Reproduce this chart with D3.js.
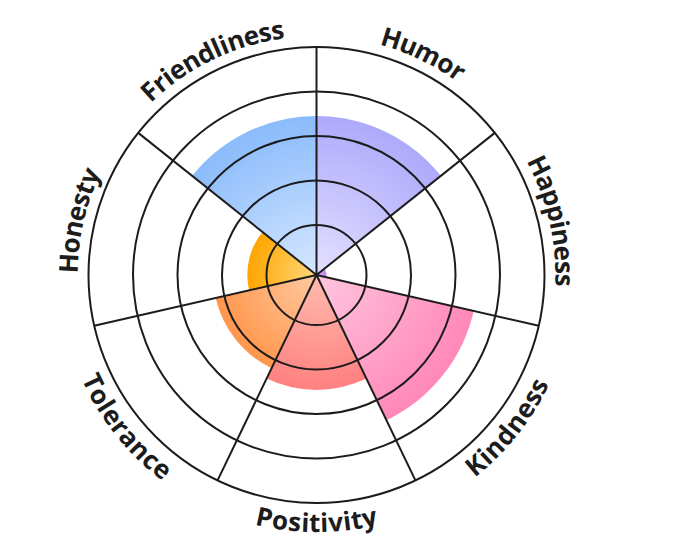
<!DOCTYPE html>
<html>
<head>
<meta charset="utf-8">
<script src="https://cdn.jsdelivr.net/npm/d3@7"></script>
<style>
  html, body { margin: 0; padding: 0; background: #ffffff; }
  svg { display: block; }
</style>
</head>
<body>
<svg id="chart" width="680" height="543"></svg>
<script>
const categories = ["Humor", "Happiness", "Kindness", "Positivity", "Tolerance", "Honesty", "Friendliness"];
const values = [3.45, 0.1, 3.5, 2.46, 2.2, 1.43, 3.45];
const ringTicks = [1, 2, 3, 4, 5];
const innerColors = ["#e4e0ff", "#d9b0ff", "#ffc6de", "#ffbcae", "#ffcaa2", "#ffd97c", "#d6e7ff"];
const outerColors = ["#aeaafb", "#c080f0", "#ff88b8", "#ff8080", "#ff964c", "#ffa500", "#8abbfb"];

const width = 680, height = 543;
const cx = 316.5, cy = 275;
const outerR = 228;

const svg = d3.select("#chart");
const g = svg.append("g").attr("transform", `translate(${cx},${cy})`);

const angle = d3.scaleBand().domain(categories).range([0, 2 * Math.PI]).padding(0);
const r = d3.scaleLinear().domain([0, 5]).range([5.5, outerR]);

const defs = svg.append("defs");
categories.forEach((c, i) => {
  const grad = defs.append("radialGradient")
    .attr("id", "grad" + i)
    .attr("gradientUnits", "userSpaceOnUse")
    .attr("cx", 0).attr("cy", 0).attr("fx", 0).attr("fy", 0)
    .attr("r", r(values[i]));
  grad.append("stop").attr("offset", "0%").attr("stop-color", innerColors[i]);
  grad.append("stop").attr("offset", "100%").attr("stop-color", outerColors[i]);
});

const arc = d3.arc()
  .innerRadius(0)
  .outerRadius(d => r(d.value))
  .startAngle(d => angle(d.cat))
  .endAngle(d => angle(d.cat) + angle.bandwidth());

const data = categories.map((c, i) => ({ cat: c, value: values[i], i }));

g.selectAll("path.sector")
  .data(data)
  .join("path")
  .attr("class", "sector")
  .attr("d", arc)
  .attr("fill", d => `url(#grad${d.i})`);

// grid rings
g.selectAll("circle.ring")
  .data(ringTicks)
  .join("circle")
  .attr("class", "ring")
  .attr("r", d => r(d))
  .attr("fill", "none")
  .attr("stroke", "#1c1c1c")
  .attr("stroke-width", 2);

// spokes
g.selectAll("line.spoke")
  .data(categories)
  .join("line")
  .attr("class", "spoke")
  .attr("x1", 0).attr("y1", 0)
  .attr("x2", d => outerR * Math.sin(angle(d)))
  .attr("y2", d => -outerR * Math.cos(angle(d)))
  .attr("stroke", "#1c1c1c")
  .attr("stroke-width", 2);

// curved labels
const labelR = 248;
const pt = (a, rad) => [rad * Math.sin(a), -rad * Math.cos(a)];
categories.forEach((c, i) => {
  const mid = angle(c) + angle.bandwidth() / 2;
  const bottom = mid > Math.PI / 2 && mid < 3 * Math.PI / 2;
  let d;
  if (!bottom) {
    const p0 = pt(mid - Math.PI / 2, labelR), p1 = pt(mid + Math.PI / 2, labelR);
    d = `M${p0[0]},${p0[1]} A${labelR},${labelR} 0 0 1 ${p1[0]},${p1[1]}`;
  } else {
    const p0 = pt(mid + Math.PI / 2, labelR), p1 = pt(mid - Math.PI / 2, labelR);
    d = `M${p0[0]},${p0[1]} A${labelR},${labelR} 0 0 0 ${p1[0]},${p1[1]}`;
  }
  defs.append("path").attr("id", "lp" + i).attr("d", d);
  g.append("text")
    .attr("dy", "0.35em")
    .style("font-family", "'Open Sans', sans-serif")
    .style("font-weight", 700)
    .style("font-size", "26px")
    .attr("fill", "#1c1c1c")
    .append("textPath")
    .attr("href", "#lp" + i)
    .attr("startOffset", "50%")
    .attr("text-anchor", "middle")
    .text(c);
});
</script>
</body>
</html>
